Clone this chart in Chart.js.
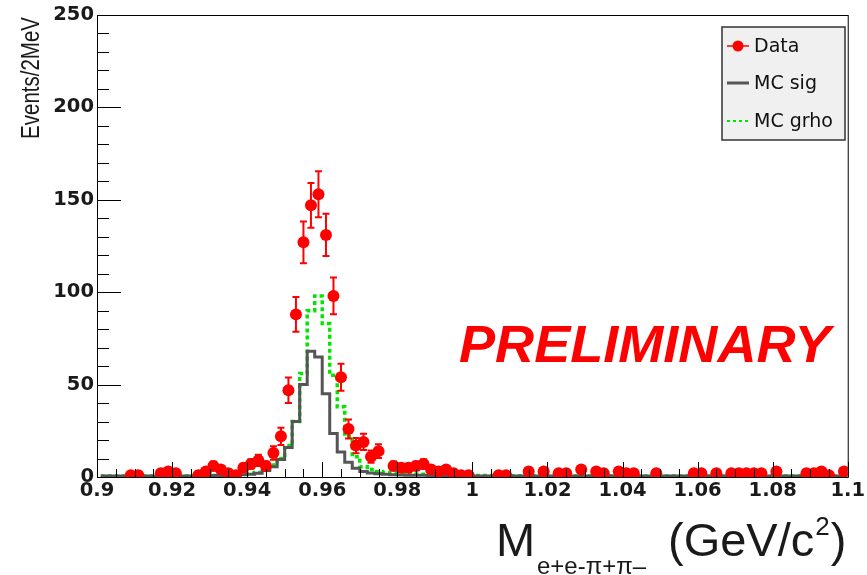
<!DOCTYPE html>
<html>
<head>
<meta charset="utf-8">
<script src="https://cdn.jsdelivr.net/npm/chart.js@4.4.1/dist/chart.umd.min.js"></script>
<style>
  html, body { margin: 0; padding: 0; background: #fff; }
  #wrap { width: 867px; height: 575px; }
</style>
</head>
<body>
<div id="wrap"><canvas id="plot" width="867" height="575"></canvas></div>
<script>
// 2 MeV bins, centres in GeV/c^2
const binCenters = [
  0.901, 0.903, 0.905, 0.907, 0.909, 0.911, 0.913, 0.915, 0.917, 0.919,
  0.921, 0.923, 0.925, 0.927, 0.929, 0.931, 0.933, 0.935, 0.937, 0.939,
  0.941, 0.943, 0.945, 0.947, 0.949, 0.951, 0.953, 0.955, 0.957, 0.959,
  0.961, 0.963, 0.965, 0.967, 0.969, 0.971, 0.973, 0.975, 0.977, 0.979,
  0.981, 0.983, 0.985, 0.987, 0.989, 0.991, 0.993, 0.995, 0.997, 0.999,
  1.001, 1.003, 1.005, 1.007, 1.009, 1.011, 1.013, 1.015, 1.017, 1.019,
  1.021, 1.023, 1.025, 1.027, 1.029, 1.031, 1.033, 1.035, 1.037, 1.039,
  1.041, 1.043, 1.045, 1.047, 1.049, 1.051, 1.053, 1.055, 1.057, 1.059,
  1.061, 1.063, 1.065, 1.067, 1.069, 1.071, 1.073, 1.075, 1.077, 1.079,
  1.081, 1.083, 1.085, 1.087, 1.089, 1.091, 1.093, 1.095, 1.097, 1.099
];

// "Data" (null = empty bin, no marker)
const dataCounts = [
  null, null, null, null, 1, 1, null, null, 2, 3,
  2, null, null, 1, 3, 6, 4, 2, 1, 5,
  7, 9, 6, 13, 22, 47, 88, 127, 147, 153,
  131, 98, 54, 26, 17, 19, 11, 14, null, 6,
  5, 5, 6, 7, 4, 3, 4, 2, 1, 1,
  null, null, null, 1, 1, null, null, 3, null, 3,
  null, 2, 2, null, 4, null, 3, 2, null, 3,
  2, 2, null, null, 2, null, null, null, null, 2,
  2, null, 2, null, 2, 2, 2, 2, 2, null,
  3, null, null, null, 2, 2, 3, 1, null, 3
];

const dataErrors = [
  0, 0, 0, 0, 1, 1, 0, 0, 1.4, 1.7,
  1.4, 0, 0, 1, 1.7, 2.4, 2, 1.4, 1, 2.2,
  2.6, 3, 2.4, 3.6, 4.7, 6.9, 9.4, 11.3, 12.1, 12.4,
  11.4, 9.9, 7.3, 5.1, 4.1, 4.4, 3.3, 3.7, 0, 2.4,
  2.2, 2.2, 2.4, 2.6, 2, 1.7, 2, 1.4, 1, 1,
  0, 0, 0, 1, 1, 0, 0, 1.7, 0, 1.7,
  0, 1.4, 1.4, 0, 2, 0, 1.7, 1.4, 0, 1.7,
  1.4, 1.4, 0, 0, 1.4, 0, 0, 0, 0, 1.4,
  1.4, 0, 1.4, 0, 1.4, 1.4, 1.4, 1.4, 1.4, 0,
  1.7, 0, 0, 0, 1.4, 1.4, 1.7, 1, 0, 1.7
];

// "MC sig"
const mcSig = [
  0.5, 0.5, 0.5, 0.5, 0.5, 0.5, 0.5, 0.5, 0.5, 0.5,
  0.5, 0.5, 0.5, 0.5, 0.5, 0.8, 0.8, 1, 1, 1.2,
  1.5, 2, 3.5, 5.5, 9.5, 16, 30, 50, 68, 65,
  45, 23.5, 13.5, 8, 4.7, 3, 2.2, 1.8, 1.5, 1.2,
  1.1, 1, 1, 0.9, 0.8, 0.8, 0.7, 0.7, 0.6, 0.6,
  0.5, 0.5, 0.5, 0.5, 0.5, 0.5, 0.5, 0.5, 0.5, 0.5,
  0.5, 0.5, 0.5, 0.5, 0.5, 0.5, 0.5, 0.5, 0.5, 0.5,
  0.5, 0.5, 0.5, 0.5, 0.5, 0.5, 0.5, 0.5, 0.5, 0.5,
  0.5, 0.5, 0.5, 0.5, 0.5, 0.5, 0.5, 0.5, 0.5, 0.5,
  0.5, 0.5, 0.5, 0.5, 0.5, 0.5, 0.5, 0.5, 0.5, 0.5
];

// "MC grho"
const mcGrho = [
  0.5, 0.5, 0.5, 0.5, 0.5, 0.5, 0.5, 0.5, 0.5, 0.5,
  0.5, 0.5, 0.5, 0.6, 0.7, 0.8, 1, 1, 1.2, 1.5,
  2, 2.5, 4, 6.5, 10, 17, 30, 56, 90, 98,
  83, 55, 38, 22, 11, 5.5, 4, 3, 2.5, 2.2,
  2, 1.8, 1.6, 1.5, 1.3, 1.2, 1.1, 1, 0.9, 0.8,
  0.8, 0.8, 0.8, 0.8, 0.8, 0.7, 0.7, 0.7, 0.7, 0.7,
  0.6, 0.6, 0.6, 0.6, 0.6, 0.6, 0.6, 0.6, 0.6, 0.6,
  0.6, 0.6, 0.6, 0.6, 0.6, 0.6, 0.6, 0.6, 0.6, 0.6,
  0.6, 0.6, 0.6, 0.6, 0.6, 0.6, 0.6, 0.6, 0.6, 0.6,
  0.6, 0.6, 0.6, 0.6, 0.6, 0.6, 0.6, 0.6, 0.6, 0.6
];

const xTickValues = [0.9, 0.92, 0.94, 0.96, 0.98, 1.0, 1.02, 1.04, 1.06, 1.08, 1.1];
const xTickLabels = ['0.9', '0.92', '0.94', '0.96', '0.98', '1', '1.02', '1.04', '1.06', '1.08', '1.1'];
const yTickValues = [0, 50, 100, 150, 200, 250];
const yTickLabels = ['0', '50', '100', '150', '200', '250'];

const seriesNames = ['Data', 'MC sig', 'MC grho'];
const colors = { data: '#ff0000', sig: '#555555', grho: '#00e600' };

const toPoints = arr => binCenters.map((c, i) => ({ x: c, y: arr[i] }));

// frame, inner ticks, error bars, legend and the loose texts
const decorations = {
  id: 'decorations',
  beforeDatasetDraw(chart, args) {
    if (args.index !== 0) return;
    const { ctx, chartArea, scales: { x, y } } = chart;
    ctx.save();
    ctx.beginPath();
    ctx.rect(chartArea.left, chartArea.top, chartArea.width, chartArea.height);
    ctx.clip();
    ctx.strokeStyle = colors.data;
    ctx.lineWidth = 2;
    binCenters.forEach((c, i) => {
      const v = dataCounts[i], e = dataErrors[i];
      if (v == null || !e) return;
      const px = x.getPixelForValue(c);
      const top = y.getPixelForValue(v + e), bot = y.getPixelForValue(Math.max(v - e, 0));
      ctx.beginPath();
      ctx.moveTo(px, top); ctx.lineTo(px, bot);
      ctx.moveTo(px - 3.5, top); ctx.lineTo(px + 3.5, top);
      ctx.moveTo(px - 3.5, bot); ctx.lineTo(px + 3.5, bot);
      ctx.stroke();
    });
    ctx.restore();
  },
  afterDraw(chart) {
    const { ctx, chartArea: a, scales: { x, y } } = chart;
    ctx.save();

    // frame
    ctx.strokeStyle = '#000';
    ctx.lineWidth = 1;
    ctx.strokeRect(a.left + 0.5, a.top + 0.5, a.right - a.left, a.bottom - a.top);

    // ticks pointing into the frame
    ctx.beginPath();
    for (let v = 0; v <= 250; v += 10) {
      const py = Math.round(y.getPixelForValue(v)) + 0.5;
      const len = v % 50 === 0 ? 24 : 12;
      ctx.moveTo(a.left, py); ctx.lineTo(a.left + len, py);
    }
    for (let k = 0; k <= 40; k++) {
      const px = Math.round(x.getPixelForValue(0.9 + k * 0.005)) + 0.5;
      const len = k % 4 === 0 ? 15 : 8;
      ctx.moveTo(px, a.bottom); ctx.lineTo(px, a.bottom - len);
    }
    ctx.stroke();

    // legend box
    const lx = 722, ly = 27, lw = 123, lh = 113;
    ctx.fillStyle = '#f0f0f0';
    ctx.fillRect(lx, ly, lw, lh);
    ctx.strokeStyle = '#333';
    ctx.lineWidth = 1.5;
    ctx.strokeRect(lx, ly, lw, lh);

    const rows = [46, 83, 121];
    ctx.font = '19px "DejaVu Sans"';
    ctx.textBaseline = 'middle';
    ctx.textAlign = 'left';
    // Data
    ctx.strokeStyle = colors.data; ctx.lineWidth = 1.5;
    ctx.beginPath(); ctx.moveTo(727, rows[0]); ctx.lineTo(749, rows[0]); ctx.stroke();
    ctx.fillStyle = colors.data;
    ctx.beginPath(); ctx.arc(738, rows[0], 5.5, 0, Math.PI * 2); ctx.fill();
    // MC sig
    ctx.strokeStyle = colors.sig; ctx.lineWidth = 3;
    ctx.beginPath(); ctx.moveTo(727, rows[1]); ctx.lineTo(749, rows[1]); ctx.stroke();
    // MC grho
    ctx.strokeStyle = colors.grho; ctx.lineWidth = 2;
    ctx.setLineDash([3, 3]);
    ctx.beginPath(); ctx.moveTo(727, rows[2]); ctx.lineTo(750, rows[2]); ctx.stroke();
    ctx.setLineDash([]);
    ctx.fillStyle = '#111';
    seriesNames.forEach((n, i) => ctx.fillText(n, 754, rows[i] + 1));

    // PRELIMINARY stamp
    ctx.fillStyle = '#ff0000';
    ctx.textBaseline = 'alphabetic';
    ctx.font = 'italic bold 52px "Liberation Sans"';
    ctx.save();
    ctx.translate(459, 362);
    ctx.scale(1.04, 1);
    ctx.fillText('PRELIMINARY', 0, 0);
    ctx.restore();

    // x title
    ctx.fillStyle = '#1a1a1a';
    ctx.font = '47px "Liberation Sans"';
    ctx.fillText('M', 496, 556);
    ctx.font = '24px "Liberation Sans"';
    ctx.fillText('e+e-\u03c0+\u03c0\u2013', 537, 574);
    ctx.font = '47px "Liberation Sans"';
    let tx = 668;
    ctx.fillText('(GeV/c', tx, 556);
    tx += ctx.measureText('(GeV/c').width + 1;
    ctx.font = '26px "Liberation Sans"';
    ctx.fillText('2', tx, 535);
    tx += ctx.measureText('2').width + 1;
    ctx.font = '47px "Liberation Sans"';
    ctx.fillText(')', tx, 556);

    // y title, top-aligned, slightly stretched like the original
    ctx.save();
    ctx.translate(32, 17);
    ctx.rotate(-Math.PI / 2);
    ctx.scale(1, 1.25);
    ctx.font = '20.5px "Liberation Sans"';
    ctx.textAlign = 'right';
    ctx.textBaseline = 'middle';
    ctx.fillText('Events/2MeV', 0, 0);
    ctx.restore();

    ctx.restore();
  }
};

const tickFont = { family: 'DejaVu Sans', size: 19.5, weight: 'bold' };

new Chart(document.getElementById('plot'), {
  type: 'line',
  data: {
    datasets: [
      {
        label: seriesNames[0],
        data: toPoints(dataCounts),
        showLine: false,
        pointRadius: 6,
        pointHoverRadius: 6,
        pointBorderWidth: 0,
        pointBackgroundColor: colors.data,
        borderColor: colors.data
      },
      {
        label: seriesNames[1],
        data: toPoints(mcSig),
        stepped: 'middle',
        borderColor: colors.sig,
        borderWidth: 3,
        pointRadius: 0,
        fill: false
      },
      {
        label: seriesNames[2],
        data: toPoints(mcGrho),
        stepped: 'middle',
        borderColor: colors.grho,
        borderWidth: 3.5,
        borderDash: [4, 3],
        pointRadius: 0,
        fill: false
      }
    ]
  },
  options: {
    responsive: false,
    animation: false,
    devicePixelRatio: 1,
    layout: { padding: { left: 0, right: 18, top: 15, bottom: 0 } },
    plugins: {
      legend: { display: false },
      tooltip: { enabled: false }
    },
    scales: {
      x: {
        type: 'linear',
        min: 0.9,
        max: 1.1,
        afterFit: s => { s.height = 98; },
        afterBuildTicks: s => { s.ticks = xTickValues.map(v => ({ value: v })); },
        grid: { display: false, drawTicks: false },
        border: { display: false },
        ticks: {
          padding: 2,
          maxRotation: 0,
          autoSkip: false,
          color: '#1a1a1a',
          font: tickFont,
          callback: (v, i) => xTickLabels[i]
        }
      },
      y: {
        min: 0,
        max: 250,
        afterFit: s => { s.width = 97; },
        afterBuildTicks: s => { s.ticks = yTickValues.map(v => ({ value: v })); },
        grid: { display: false, drawTicks: false },
        border: { display: false },
        ticks: {
          padding: 3,
          color: '#1a1a1a',
          font: tickFont,
          callback: (v, i) => yTickLabels[i]
        }
      }
    }
  },
  plugins: [decorations]
});
</script>
</body>
</html>
